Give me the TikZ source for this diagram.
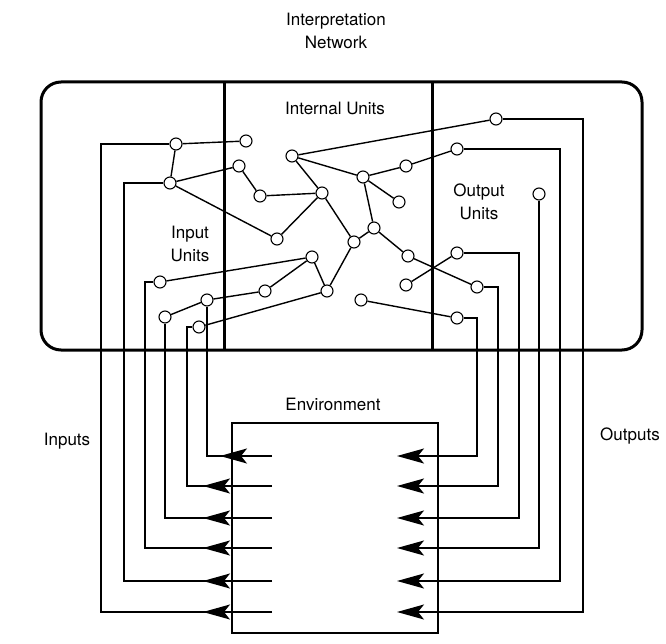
\documentclass[tikz,border=0pt]{standalone}
\usepackage{fontspec}
\setmainfont{TeX Gyre Heros}
\usetikzlibrary{arrows.meta,decorations.markings}
\begin{document}
\begin{tikzpicture}[x=1pt,y=-1pt,
  unit/.style={circle,draw,fill=white,line width=1.1pt,minimum size=12pt,inner sep=0pt},
  wire/.style={line width=1.4pt},
  heavy/.style={line width=3pt},
  lbl/.style={font=\fontsize{17}{22.5}\selectfont,align=center,inner sep=0pt},
  outarrow/.style={-{Stealth[length=27pt,width=15pt,inset=6pt]}},
  inarrow/.style={postaction={decorate},decoration={markings,mark=at position #1 with {\arrow{Stealth[length=27pt,width=15pt,inset=6pt]}}}},
]
\useasboundingbox (0,0) rectangle (666,644);
\fill[white] (0,0) rectangle (666,644);

% frame and dividers
\draw[heavy,rounded corners=20pt] (41,82) rectangle (642,350);
\draw[heavy] (224,82) -- (224,350);
\draw[heavy] (432,82) -- (432,350);

% labels
\node[lbl] (title) at (336,31) {Interpretation\\Network};
\node[lbl] (intl) at (335,108) {Internal Units};
\node[lbl] (inl) at (190,244) {Input\\Units};
\node[lbl] (outl) at (479,202) {Output\\Units};
\node[lbl] (envl) at (333,404) {Environment};
\node[lbl] (ins) at (67,441) {Inputs};
\node[lbl] (outs) at (630,436) {Outputs};

% environment box
\node[draw,line width=1.3pt,minimum width=206pt,minimum height=210pt,inner sep=0pt] (env) at (335,528) {};

% units
\foreach \n/\x/\y in {A1/176/144,A2/170/183,A3/160/282,A4/207/300,A5/165/317,A6/199/327,
  B1/246/141,B2/239/166,B3/260/196,C/322/193,D/292/156,E/277/239,F/354/242,G/363/177,
  H/406/166,J/399/202,K/374/228,L/408/256,N/406/285,P/361/300,Q/265/291,T/312/257,M/327/291,
  O1/496/119,O2/457/149,O3/539/194,O4/457/253,O5/477/287,O6/457/318}
  \node[unit] (\n) at (\x,\y) {};

% internal connections
\foreach \a/\b in {A1/A2,A1/B1,A2/B2,A2/E,B2/B3,B3/C,C/D,C/E,C/F,D/O1,D/G,G/H,G/J,G/K,
  H/O2,K/F,K/L,L/O5,N/O4,P/O6,A3/T,A4/Q,A4/A5,A6/M,Q/T,T/M,M/F}
  \draw[wire] (\a) -- (\b);

% environment ports
\foreach \i/\y in {1/456,2/486,3/518,4/548,5/581,6/612}{
  \coordinate (e\i) at (272,\y);
  \coordinate (t\i) at (397,\y);
}
% vertical line positions
\coordinate (ix1) at (101,0);
\coordinate (ix2) at (124,0);
\coordinate (ix3) at (145,0);
\coordinate (ix6) at (187,0);
\coordinate (ox1) at (583,0);
\coordinate (ox2) at (560,0);
\coordinate (ox4) at (519,0);
\coordinate (ox5) at (498,0);
\coordinate (ox6) at (477,0);

% inputs
\draw[wire,inarrow=52pt] (e1) -| (A4);
\draw[wire,inarrow=69pt] (e2) -| (A6 -| ix6) -- (A6);
\draw[wire,inarrow=69pt] (e3) -| (A5);
\draw[wire,inarrow=69pt] (e4) -| (A3 -| ix3) -- (A3);
\draw[wire,inarrow=69pt] (e5) -| (A2 -| ix2) -- (A2);
\draw[wire,inarrow=69pt] (e6) -| (A1 -| ix1) -- (A1);

% outputs
\draw[wire,outarrow] (O6) -| (t1 -| ox6) -- (t1);
\draw[wire,outarrow] (O5) -| (t2 -| ox5) -- (t2);
\draw[wire,outarrow] (O4) -| (t3 -| ox4) -- (t3);
\draw[wire,outarrow] (O3) |- (t4);
\draw[wire,outarrow] (O2) -| (t5 -| ox2) -- (t5);
\draw[wire,outarrow] (O1) -| (t6 -| ox1) -- (t6);
\end{tikzpicture}
\end{document}
